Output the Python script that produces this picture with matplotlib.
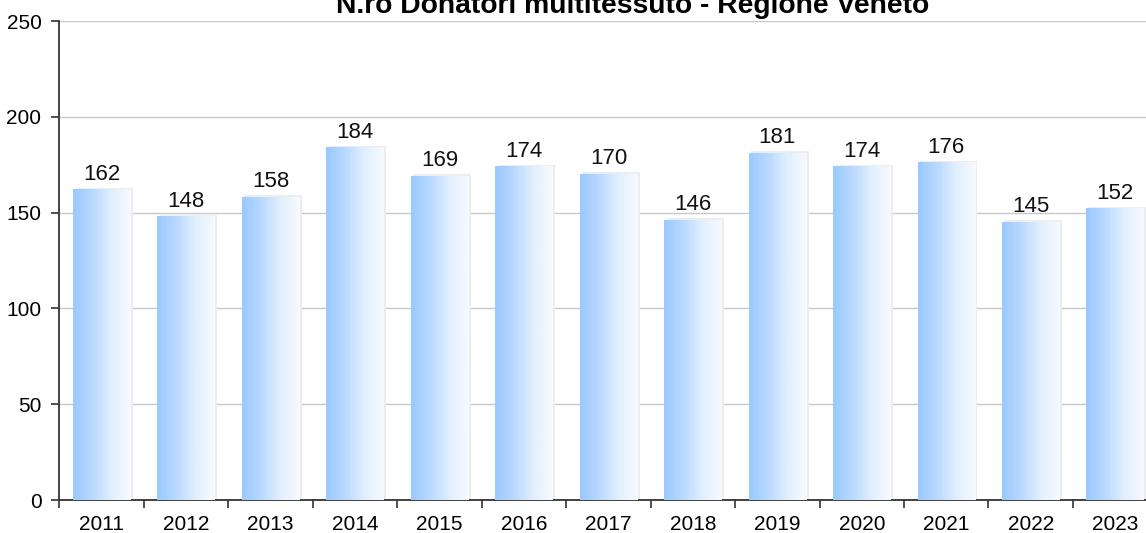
import numpy as np
import matplotlib
matplotlib.use("Agg")
import matplotlib.pyplot as plt
from matplotlib.colors import LinearSegmentedColormap

plt.rcParams['font.family'] = ['Liberation Sans', 'DejaVu Sans']

anni = ['2011', '2012', '2013', '2014', '2015', '2016', '2017',
        '2018', '2019', '2020', '2021', '2022', '2023']
donatori = [162, 148, 158, 184, 169, 174, 170, 146, 181, 174, 176, 145, 152]
titolo = "N.ro Donatori multitessuto - Regione Veneto"

fig = plt.figure(figsize=(11.46, 5.33), dpi=100)
ax = fig.add_axes([0.0519, 0.0619, 0.958, 0.8987])

x = np.arange(len(anni))
w = 0.68
cmap = LinearSegmentedColormap.from_list(
    'grad', ['#99c9ff', '#b9d9ff', '#e2effe', '#f7fafe'])
grad = np.linspace(0, 1, 256).reshape(1, -1)

bars = ax.bar(x, donatori, width=w, color='none', zorder=3)
for b in bars:
    x0, y0 = b.get_x(), b.get_y()
    # faint shadow edge to right and top
    ax.bar(x0 + b.get_width() / 2 + 0.03, b.get_height() + 1.0,
           width=b.get_width(), color='#ededed', zorder=2.5)
    ax.imshow(grad, cmap=cmap, aspect='auto', zorder=3,
              extent=[x0, x0 + b.get_width(), y0, y0 + b.get_height()])

for xi, v in zip(x, donatori):
    ax.annotate(str(v), (xi, v), xytext=(0, 3.5), textcoords='offset points',
                ha='center', va='bottom', fontsize=16, color='#111111')

ax.set_xlim(-0.5, len(anni) - 0.5)
ax.set_ylim(0, 250)
ax.set_yticks(range(0, 251, 50))
ax.set_xticks(x)
ax.set_xticklabels(anni)
ax.set_xticks(np.arange(-0.5, len(anni), 1), minor=True)
ax.tick_params(axis='x', which='major', length=0, pad=11, labelsize=15)
ax.tick_params(axis='x', which='minor', length=6, width=1.2, color='#333333')
ax.tick_params(axis='y', length=6, width=1.2, color='#333333', pad=7,
               labelsize=15)

ax.grid(axis='y', color='#c8c8c8', linewidth=1.0, zorder=0)
ax.set_axisbelow(True)
for s in ['top', 'right']:
    ax.spines[s].set_visible(False)
for s in ['left', 'bottom']:
    ax.spines[s].set_color('#333333')
    ax.spines[s].set_linewidth(1.3)

fig.text(633 / 1146, 1 - 13 / 533, titolo, ha='center', va='baseline',
         fontsize=20.3, fontweight='bold')

fig.savefig('out.png', dpi=100)
